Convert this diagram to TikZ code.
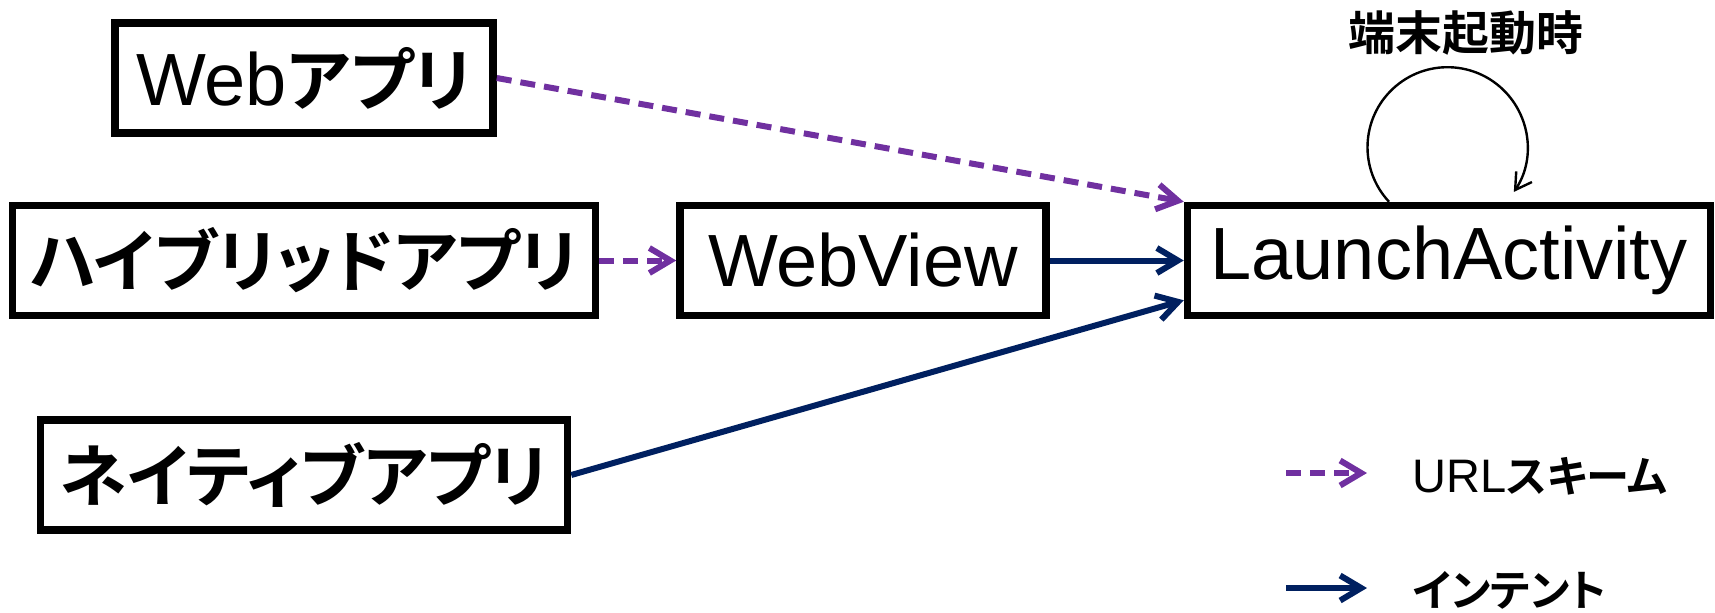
\documentclass[tikz,border=0pt]{standalone}
\usepackage{fontspec}
\setmainfont{Liberation Sans}
\newfontfamily\jpfont[RawFeature=+palt,Scale=0.92]{Noto Sans CJK JP Bold}
\newcommand{\jp}[1]{{\jpfont #1}}
\definecolor{urlpurple}{HTML}{7030A0}
\definecolor{intentblue}{HTML}{002060}
\usetikzlibrary{arrows.meta,positioning}
\tikzset{
	appbox/.style={
		draw, rectangle, line width=3.75pt,
		minimum height=55pt, inner sep=0pt, text=black,
		font=\fontsize{37}{40}\selectfont
	},
}

\begin{document}
\begin{tikzpicture}[
		x=0.5pt, y=-0.5pt,
		urlscheme/.style={
			urlpurple, line width=3pt, dash pattern=on 7.5pt off 4.5pt,
			-{Straight Barb[length=10.5pt,width=12.5pt]}
		},
		intent/.style={
			intentblue, line width=3pt,
			-{Straight Barb[length=10.5pt,width=12.5pt]}
		},
		bootloop/.style={black, line width=1.2pt, -{Straight Barb[length=8pt,width=9.5pt]}},
		small/.style={inner sep=0pt, font=\fontsize{23.5}{26}\selectfont}
		]
		\useasboundingbox (0,0) rectangle (1715,612);
		
		\node[appbox, minimum width=291.5pt] (hybrid) at (304,260.5) {\jp{ハイブリッドアプリ}};
		\node[appbox, minimum width=189pt]   (webapp) [above=32.5pt of hybrid] {Web\jp{アプリ}};
		\node[appbox, minimum width=263.5pt] (native) [below=48.5pt of hybrid] {\jp{ネイティブアプリ}};
		\node[appbox, minimum width=183pt]   (webview) [right=38.5pt of hybrid] {WebView};
		\node[appbox, minimum width=261.5pt] (launch) [right=67pt of webview] {LaunchActivity};
		
		\node[small, font=\fontsize{25.5}{28}\selectfont] (boot) at (1466,33) {\jp{端末起動時}};
		\draw[bootloop] ([xshift=-30pt]launch.north) arc[start angle=223, end angle=-34, radius=40pt];
		
		\draw[urlscheme] (webapp.east) -- (launch.north west);
		\draw[urlscheme] (hybrid) -- (webview);
		\draw[intent] (webview) -- (launch);
		\draw[intent] (native.east) -- ([yshift=9.5pt]launch.south west);
		
		\node[small, anchor=west] (urlkey) at (1412,476) {URL\jp{スキーム}};
		\node[small, anchor=west] (intentkey) at (1412,590) {\jp{インテント}};
		\coordinate (u1) at (1286,473);
		\coordinate (u2) at (1367,473);
		\coordinate (i1) at (1286,588);
		\coordinate (i2) at (1367,588);
		\draw[urlscheme] (u1) -- (u2);
		\draw[intent] (i1) -- (i2);
	\end{tikzpicture}
\end{document}
